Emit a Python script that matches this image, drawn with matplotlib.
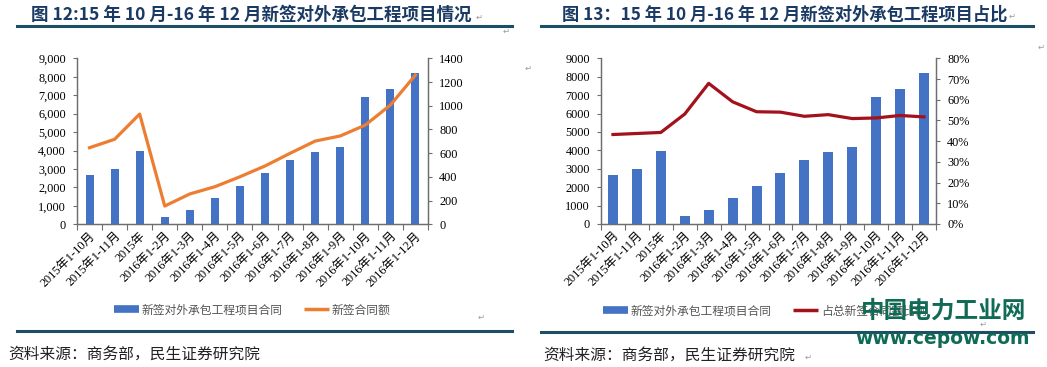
import matplotlib
matplotlib.use('Agg')
import matplotlib.pyplot as plt
from matplotlib.lines import Line2D
from matplotlib.ticker import FuncFormatter, FixedLocator
import numpy as np

# ---------------- data ----------------
categories = ["2015年1-10月", "2015年1-11月", "2015年", "2016年1-2月", "2016年1-3月",
              "2016年1-4月", "2016年1-5月", "2016年1-6月", "2016年1-7月", "2016年1-8月",
              "2016年1-9月", "2016年1-10月", "2016年1-11月", "2016年1-12月"]
contracts = [2670, 2980, 3975, 415, 750, 1400, 2090, 2780, 3500, 3915, 4190, 6880, 7350, 8180]
amount = [646, 717, 930, 154, 256, 317, 401, 492, 599, 702, 745, 837, 1006, 1259]
share_pct = [43.2, 43.7, 44.2, 53.1, 67.9, 59.0, 54.2, 54.0, 52.0, 52.8, 50.9, 51.2, 52.4, 51.7]

title_left = "图 12:15 年 10 月-16 年 12 月新签对外承包工程项目情况"
title_right = "图 13：15 年 10 月-16 年 12 月新签对外承包工程项目占比"
legend_bar = "新签对外承包工程项目合同"
legend_amount = "新签合同额"
legend_share = "占总新签合同额比例"
source_text = "资料来源：商务部，民生证券研究院"

BLUE = "#4472C4"
ORANGE = "#ED7D31"
RED = "#A3121C"
NAVY = "#1B3A63"
RULE = "#1D4E63"
SPINE = "#6E6E6E"
GREEN = "#0F6B55"

CJK = "Noto Sans CJK SC"
SERIF = ["Liberation Serif", "Noto Sans CJK SC"]

plt.rcParams['font.family'] = ["DejaVu Sans", CJK]

W, H = 1047, 367
fig = plt.figure(figsize=(W / 100, H / 100), dpi=100)


def fx(px):
    return px / W


def fy(py):
    return 1 - py / H


def style_axes(ax, ax2):
    for a in (ax, ax2):
        a.spines['top'].set_visible(False)
        for s in ('left', 'right', 'bottom'):
            a.spines[s].set_color(SPINE)
            a.spines[s].set_linewidth(0.9)
        a.tick_params(axis='y', direction='out', length=3, width=0.8, color=SPINE,
                      labelsize=8.8, pad=5)
    ax.set_xlim(-0.5, len(categories) - 0.5)
    ax.set_xticks(np.arange(len(categories)))
    ax.set_xticklabels(categories, rotation=45, ha='right', rotation_mode='anchor',
                       fontsize=8.8, family=SERIF)
    ax.tick_params(axis='x', which='major', length=0, pad=4)
    ax.xaxis.set_minor_locator(FixedLocator(np.arange(-0.5, len(categories), 1.0)))
    ax.tick_params(axis='x', which='minor', direction='out', length=4, width=0.8, color=SPINE)
    ax.set_ylim(0, 9000)
    ax.set_yticks(np.arange(0, 9001, 1000))
    for lab in ax.get_yticklabels() + ax2.get_yticklabels():
        lab.set_family(SERIF)


x = np.arange(len(categories))

# ---------------- left chart ----------------
axL = fig.add_axes([fx(77), fy(224.3), fx(428) - fx(77), fy(58.3) - fy(224.3)])
axL2 = axL.twinx()
axL.bar(x, contracts, width=0.32, color=BLUE, zorder=2)
axL2.plot(x, amount, color=ORANGE, lw=2.3, zorder=3, solid_joinstyle='round')
axL2.set_ylim(0, 1400)
axL2.set_yticks(np.arange(0, 1401, 200))
axL.yaxis.set_major_formatter(FuncFormatter(lambda v, p: f"{int(v):,}"))
style_axes(axL, axL2)

# ---------------- right chart ----------------
axR = fig.add_axes([fx(601), fy(224.0), fx(936) - fx(601), fy(58.3) - fy(224.0)])
axR2 = axR.twinx()
axR.bar(x, contracts, width=0.42, color=BLUE, zorder=2)
axR2.plot(x, share_pct, color=RED, lw=2.3, zorder=3, solid_joinstyle='round')
axR2.set_ylim(0, 80)
axR2.set_yticks(np.arange(0, 81, 10))
axR2.yaxis.set_major_formatter(FuncFormatter(lambda v, p: f"{int(v)}%"))
axR.yaxis.set_major_formatter(FuncFormatter(lambda v, p: f"{int(v)}"))
style_axes(axR, axR2)

# ---------------- legends ----------------
legend_font = {'family': CJK, 'size': 8.5}
hL = [Line2D([], [], color=BLUE, lw=5.5, solid_capstyle='butt'),
      Line2D([], [], color=ORANGE, lw=2.5, solid_capstyle='butt')]
legL = fig.legend(hL, [legend_bar, legend_amount], loc='center',
                  bbox_to_anchor=(fx(252), fy(310)), ncol=2, frameon=False,
                  prop=legend_font, handlelength=2.1, handletextpad=0.25,
                  columnspacing=1.8, borderaxespad=0)
for t in legL.get_texts():
    t.set_color("#555555")

hR = [Line2D([], [], color=BLUE, lw=5.5, solid_capstyle='butt'),
      Line2D([], [], color=RED, lw=2.5, solid_capstyle='butt')]
legR = fig.legend(hR, [legend_bar, legend_share], loc='center',
                  bbox_to_anchor=(fx(765), fy(311)), ncol=2, frameon=False,
                  prop=legend_font, handlelength=2.1, handletextpad=0.25,
                  columnspacing=1.8, borderaxespad=0)
for t in legR.get_texts():
    t.set_color("#555555")

# ---------------- titles, rules, sources ----------------
fig.text(fx(31), fy(15), title_left, fontsize=12.6, fontweight='bold', color=NAVY,
         family=[CJK], va='center', ha='left')
fig.text(fx(562), fy(15), title_right, fontsize=12.4, fontweight='bold', color=NAVY,
         family=[CJK], va='center', ha='left')

for (x0, x1, yy) in [(17, 512, 26), (17, 512, 331), (541, 1033, 26), (541, 1033, 332)]:
    fig.add_artist(Line2D([fx(x0), fx(x1)], [fy(yy), fy(yy)], color=RULE, lw=2.2,
                          transform=fig.transFigure))

fig.text(fx(8), fy(354), source_text, fontsize=11.3, color="#222222", family=[CJK],
         va='center', ha='left')
fig.text(fx(543), fy(355), source_text, fontsize=11.3, color="#222222", family=[CJK],
         va='center', ha='left')

# return marks
for (px, py) in [(479, 17), (506, 31), (481, 317), (1012, 16), (808, 357), (983, 324),
                 (528, 68), (1041, 47)]:
    fig.text(fx(px), fy(py), "↵", fontsize=6, color="#9A9A9A", family=["DejaVu Sans"],
             va='center', ha='center')

# watermark
fig.text(fx(944), fy(311), "中国电力工业网", fontsize=17, fontweight='bold', color=GREEN,
         family=[CJK], va='center', ha='center', zorder=10)
fig.text(fx(943), fy(339), "www.cepow.com", fontsize=13.5, fontweight='bold', color=GREEN,
         family=["DejaVu Sans"], va='center', ha='center', zorder=10)

fig.savefig("out.png", dpi=100)
